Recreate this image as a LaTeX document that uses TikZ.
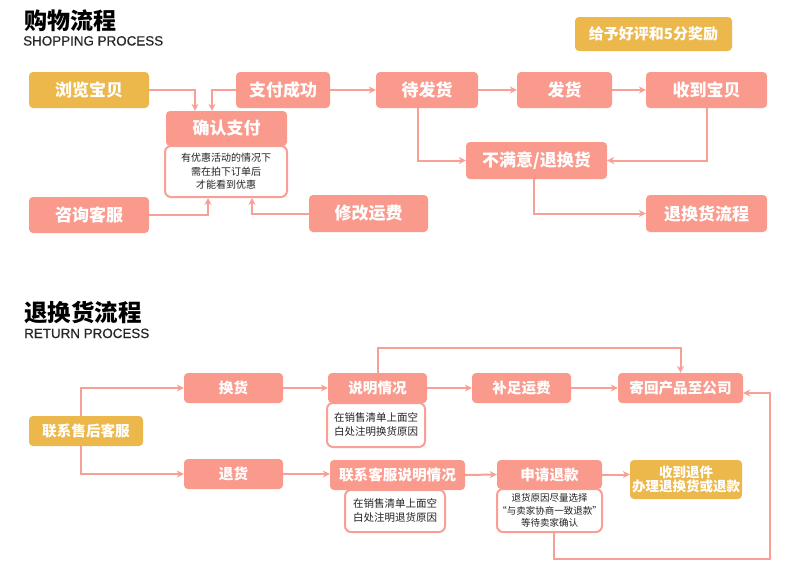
\documentclass[tikz,border=0pt]{standalone}
\usepackage{fontspec}
\newfontfamily\cjk{Noto Sans CJK SC}
\newfontfamily\latinsans{Liberation Sans}[FakeBold=0.5]
\usetikzlibrary{arrows.meta}
\definecolor{pinkbox}{HTML}{F99A8D}
\definecolor{pinkline}{HTML}{F8A095}
\definecolor{goldbox}{HTML}{EDB84B}
\definecolor{notetext}{HTML}{222222}
\tikzset{
  pbox/.style={fill=pinkbox, rounded corners=4pt, inner sep=0pt, text=white, font=\cjk\bfseries\fontsize{17}{20}\selectfont},
  gbox/.style={pbox, fill=goldbox},
  sbox/.style={pbox, font=\cjk\bfseries\fontsize{14.6}{17}\selectfont},
  gsbox/.style={sbox, fill=goldbox},
  notebox/.style={draw=pinkline, line width=2pt, fill=white, rounded corners=6pt, inner sep=0pt, align=center, text=notetext},
  arr/.style={draw=pinkline, line width=2pt, -{Stealth[length=7pt,width=7pt]}},
}
\begin{document}
\begin{tikzpicture}[x=1pt,y=-1pt]
\useasboundingbox[fill=white] (0,0) rectangle (790,576);

% ---------- titles ----------
\node[anchor=base west, inner sep=0pt, font=\cjk\bfseries\fontsize{23}{26}\selectfont] (t1) at (24,29) {购物流程};
\node[anchor=base west, inner sep=0pt, font=\latinsans\fontsize{13.4}{15}\selectfont, text=black!85] (t1e) at (23,45.5) {SHOPPING PROCESS};
\node[anchor=base west, inner sep=0pt, font=\cjk\bfseries\fontsize{23.5}{26}\selectfont] (t2) at (24,321) {退换货流程};
\node[anchor=base west, inner sep=0pt, font=\latinsans\fontsize{13.4}{15}\selectfont, text=black!85] (t2e) at (24,338) {RETURN PROCESS};

% ---------- shopping process ----------
\node[notebox, minimum width=122pt, minimum height=51pt, font=\cjk\fontsize{10}{13.5}\selectfont] (note0) at (226,171.5) {有优惠活动的情况下\\需在拍下订单后\\才能看到优惠};

\node[gbox, minimum width=157pt, minimum height=34pt, font=\cjk\bfseries\fontsize{15}{18}\selectfont] (reward) at (653.5,34) {给予好评和5分奖励};
\node[gbox, minimum width=120pt, minimum height=36pt] (browse) at (89,90) {浏览宝贝};
\node[pbox, minimum width=94pt, minimum height=36pt] (paid) at (283,90) {支付成功};
\node[pbox, minimum width=121pt, minimum height=35pt] (confirm) at (226.5,128.5) {确认支付};
\node[pbox, minimum width=120pt, minimum height=36pt] (consult) at (89,215) {咨询客服};
\node[pbox, minimum width=119pt, minimum height=37pt] (modify) at (368.5,213.5) {修改运费};
\node[pbox, minimum width=102pt, minimum height=36pt] (wait) at (427,90) {待发货};
\node[pbox, minimum width=95pt, minimum height=36pt] (ship) at (564.5,90) {发货};
\node[pbox, minimum width=121pt, minimum height=36pt] (recv) at (706.5,90) {收到宝贝};
\node[pbox, minimum width=141pt, minimum height=37pt] (unsat) at (536.5,160.5) {不满意/退换货};
\node[pbox, minimum width=121pt, minimum height=37pt] (retflow) at (706.5,213.5) {退换货流程};

\draw[arr] (browse.east) -| ([xshift=-31.5pt]confirm.north);
\draw[arr] (paid.west) -| ([xshift=-14.5pt]confirm.north);
\draw[arr] (paid.east) -- (wait.west);
\draw[arr] (wait.east) -- (ship.west);
\draw[arr] (ship.east) -- (recv.west);
\draw[arr] ([xshift=-9pt]wait.south) |- (unsat.west);
\draw[arr] (recv.south) |- (unsat.east);
\draw[arr] ([xshift=-2.5pt]unsat.south) |- (retflow.west);
\draw[arr] (consult.east) -| ([xshift=-18pt]note0.south);
\draw[arr] (modify.west) -| ([xshift=26pt]note0.south);

% ---------- return process ----------
\node[notebox, minimum width=98pt, minimum height=44pt, font=\cjk\fontsize{10.5}{14}\selectfont] (note1) at (376,425) {在销售清单上面空\\白处注明换货原因};
\node[notebox, minimum width=100pt, minimum height=42pt, font=\cjk\fontsize{10.5}{14}\selectfont] (note2) at (395,511) {在销售清单上面空\\白处注明退货原因};
\node[notebox, minimum width=105pt, minimum height=43pt, font=\cjk\fontsize{9.5}{12.5}\selectfont] (note3) at (549.5,510.5) {退货原因尽量选择\\“与卖家协商一致退款”\\等待卖家确认};

\node[gsbox, minimum width=114pt, minimum height=30pt] (contact) at (86,431) {联系售后客服};
\node[sbox, minimum width=99pt, minimum height=30pt] (exch) at (233.5,388) {换货};
\node[sbox, minimum width=99pt, minimum height=30pt] (ret) at (233.5,474) {退货};
\node[sbox, minimum width=99pt, minimum height=30pt] (explain) at (377.5,388) {说明情况};
\node[sbox, minimum width=135pt, minimum height=30pt] (contactcs) at (397.5,475) {联系客服说明情况};
\node[sbox, minimum width=99pt, minimum height=30pt] (topup) at (521.5,388) {补足运费};
\node[sbox, minimum width=125pt, minimum height=30pt] (sendback) at (680.5,388) {寄回产品至公司};
\node[sbox, minimum width=105pt, minimum height=29pt] (refund) at (549.5,474.5) {申请退款};
\node[gsbox, minimum width=112pt, minimum height=39pt, align=center, font=\cjk\bfseries\fontsize{13.5}{14.5}\selectfont] (gotit) at (686,479.5) {收到退件\\办理退换货或退款};

\coordinate (rc) at (770,559);

\draw[arr] ([xshift=-5pt]contact.north) |- (exch.west);
\draw[arr] ([xshift=-5pt]contact.south) |- (ret.west);
\draw[arr] (exch.east) -- (explain.west);
\draw[arr] (explain.east) -- (topup.west);
\draw[arr] (topup.east) -- (sendback.west);
\draw[arr] (explain.north) -- ++(0,-25) -| (sendback.north);
\draw[arr] (ret.east) -- (contactcs.west |- ret.east);
\draw[arr] (contactcs.east) -- (refund.west);
\draw[arr] (refund.east) -- (gotit.west |- refund.east);
\draw[arr] ([xshift=4.5pt]note3.south) |- (rc) |- ([yshift=-5pt]sendback.east);
\end{tikzpicture}
\end{document}
